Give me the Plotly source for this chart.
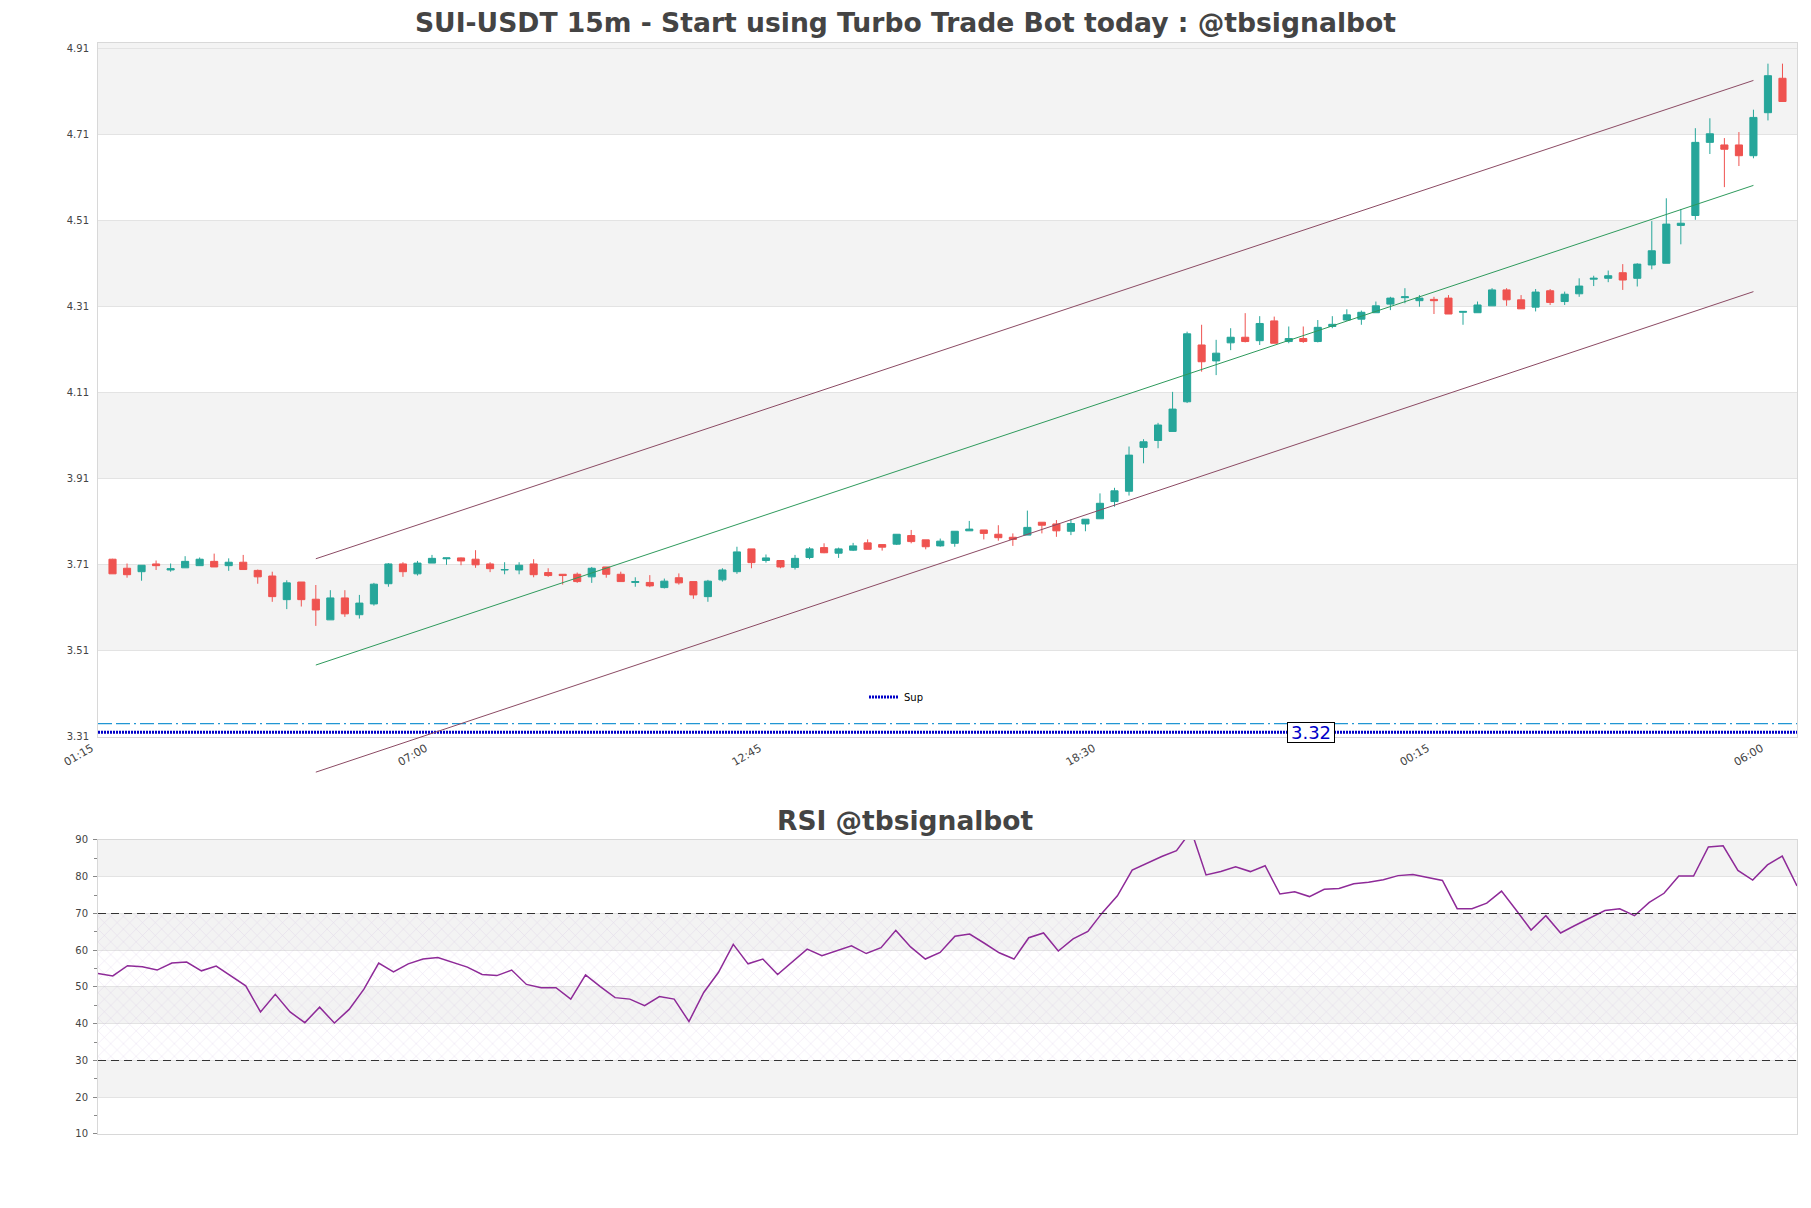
"""SUI-USDT 15m candles with regression channel, support line and RSI panel"""

import numpy as np
import plotly.graph_objects as go

# ---- data ----
opens = [
    3.722, 3.701, 3.693, 3.711, 3.697, 3.702, 3.707, 3.717, 3.707, 3.715,
    3.696, 3.683, 3.628, 3.669, 3.629, 3.581, 3.632, 3.593, 3.618, 3.665,
    3.711, 3.688, 3.713, 3.723, 3.725, 3.722, 3.711, 3.697, 3.697, 3.711,
    3.691, 3.687, 3.687, 3.681, 3.704, 3.687, 3.668, 3.668, 3.656, 3.679,
    3.670, 3.635, 3.674, 3.693, 3.746, 3.719, 3.719, 3.703, 3.726, 3.749,
    3.736, 3.743, 3.760, 3.756, 3.757, 3.777, 3.767, 3.753, 3.759, 3.788,
    3.790, 3.780, 3.773, 3.778, 3.808, 3.804, 3.787, 3.804, 3.816, 3.856,
    3.880, 3.982, 3.998, 4.019, 4.088, 4.220, 4.183, 4.225, 4.238, 4.230,
    4.276, 4.228, 4.235, 4.228, 4.263, 4.278, 4.280, 4.295, 4.315, 4.330,
    4.323, 4.326, 4.329, 4.296, 4.295, 4.311, 4.348, 4.325, 4.308, 4.346,
    4.321, 4.339, 4.373, 4.375, 4.388, 4.375, 4.406, 4.410, 4.498, 4.521,
    4.691, 4.685, 4.685, 4.660, 4.760, 4.840,
]
highs = [
    3.723, 3.712, 3.708, 3.719, 3.712, 3.729, 3.726, 3.735, 3.724, 3.732,
    3.698, 3.693, 3.673, 3.669, 3.662, 3.650, 3.650, 3.639, 3.667, 3.713,
    3.715, 3.718, 3.732, 3.725, 3.726, 3.743, 3.715, 3.715, 3.715, 3.722,
    3.701, 3.687, 3.691, 3.704, 3.704, 3.693, 3.680, 3.685, 3.677, 3.689,
    3.670, 3.674, 3.701, 3.751, 3.746, 3.733, 3.719, 3.732, 3.750, 3.759,
    3.749, 3.760, 3.768, 3.756, 3.780, 3.790, 3.767, 3.770, 3.787, 3.811,
    3.790, 3.801, 3.782, 3.835, 3.808, 3.813, 3.815, 3.815, 3.875, 3.888,
    3.984, 4.001, 4.039, 4.111, 4.251, 4.267, 4.232, 4.259, 4.294, 4.287,
    4.286, 4.263, 4.263, 4.278, 4.287, 4.303, 4.300, 4.321, 4.332, 4.352,
    4.336, 4.332, 4.336, 4.298, 4.321, 4.352, 4.352, 4.336, 4.350, 4.350,
    4.344, 4.375, 4.381, 4.393, 4.408, 4.410, 4.508, 4.561, 4.536, 4.724,
    4.747, 4.701, 4.715, 4.767, 4.874, 4.874,
]
lows = [
    3.688, 3.679, 3.672, 3.697, 3.693, 3.702, 3.707, 3.704, 3.695, 3.698,
    3.665, 3.623, 3.606, 3.612, 3.567, 3.581, 3.588, 3.584, 3.614, 3.658,
    3.681, 3.684, 3.713, 3.709, 3.708, 3.702, 3.692, 3.687, 3.687, 3.680,
    3.681, 3.663, 3.667, 3.667, 3.679, 3.670, 3.658, 3.657, 3.654, 3.663,
    3.630, 3.623, 3.670, 3.688, 3.701, 3.714, 3.701, 3.698, 3.722, 3.736,
    3.725, 3.741, 3.745, 3.742, 3.755, 3.759, 3.745, 3.751, 3.751, 3.788,
    3.768, 3.765, 3.753, 3.778, 3.782, 3.774, 3.778, 3.787, 3.816, 3.844,
    3.870, 3.945, 3.980, 4.019, 4.085, 4.158, 4.150, 4.208, 4.226, 4.220,
    4.224, 4.224, 4.225, 4.226, 4.259, 4.276, 4.267, 4.295, 4.301, 4.317,
    4.309, 4.292, 4.292, 4.267, 4.295, 4.311, 4.311, 4.304, 4.298, 4.313,
    4.313, 4.332, 4.357, 4.366, 4.348, 4.356, 4.396, 4.410, 4.454, 4.511,
    4.664, 4.587, 4.636, 4.654, 4.742, 4.786,
]
closes = [
    3.688, 3.686, 3.708, 3.707, 3.700, 3.717, 3.722, 3.704, 3.715, 3.698,
    3.681, 3.635, 3.667, 3.628, 3.604, 3.632, 3.595, 3.620, 3.664, 3.711,
    3.693, 3.713, 3.724, 3.725, 3.718, 3.709, 3.700, 3.698, 3.708, 3.686,
    3.684, 3.684, 3.670, 3.701, 3.687, 3.670, 3.670, 3.660, 3.671, 3.667,
    3.639, 3.671, 3.697, 3.739, 3.714, 3.725, 3.704, 3.724, 3.746, 3.737,
    3.746, 3.753, 3.745, 3.750, 3.780, 3.763, 3.751, 3.764, 3.787, 3.792,
    3.782, 3.772, 3.768, 3.796, 3.801, 3.788, 3.805, 3.815, 3.852, 3.881,
    3.964, 3.995, 4.034, 4.071, 4.246, 4.181, 4.201, 4.238, 4.228, 4.270,
    4.224, 4.235, 4.228, 4.261, 4.268, 4.290, 4.296, 4.311, 4.329, 4.332,
    4.329, 4.323, 4.292, 4.298, 4.313, 4.348, 4.325, 4.304, 4.343, 4.319,
    4.338, 4.357, 4.375, 4.381, 4.371, 4.408, 4.439, 4.501, 4.503, 4.691,
    4.711, 4.675, 4.660, 4.749, 4.846, 4.786,
]
rsi = [
    53.7, 53.0, 55.8, 55.5, 54.6, 56.5, 56.8, 54.4, 55.7, 53.0,
    50.3, 43.2, 48.0, 43.2, 40.3, 44.5, 40.2, 43.9, 49.4, 56.5,
    54.1, 56.3, 57.6, 58.0, 56.8, 55.4, 53.4, 53.1, 54.6, 50.7,
    49.8, 49.8, 46.7, 53.3, 50.1, 47.1, 46.7, 44.9, 47.4, 46.7,
    40.6, 48.5, 54.0, 61.6, 56.3, 57.6, 53.4, 56.8, 60.3, 58.5,
    59.9, 61.2, 59.1, 60.7, 65.4, 60.9, 57.6, 59.4, 63.8, 64.4,
    61.9, 59.3, 57.6, 63.4, 64.7, 59.8, 63.1, 65.1, 70.3, 74.8,
    81.8, 83.7, 85.5, 87.1, 92.5, 80.5, 81.4, 82.7, 81.4, 83.0,
    75.3, 75.9, 74.6, 76.6, 76.8, 78.1, 78.5, 79.2, 80.3, 80.6,
    79.8, 79.0, 71.3, 71.3, 72.8, 76.1, 70.9, 65.5, 69.4, 64.7,
    66.8, 68.8, 70.8, 71.3, 69.4, 73.0, 75.5, 80.2, 80.2, 88.1,
    88.4, 81.7, 79.1, 83.2, 85.6, 77.5,
]

# time labels every 23 candles (5h45m)
time_tick_idx = [0, 23, 46, 69, 92, 115]
time_tick_labels = ["01:15", "07:00", "12:45", "18:30", "00:15", "06:00"]
price_ticks = [3.31, 3.51, 3.71, 3.91, 4.11, 4.31, 4.51, 4.71, 4.91]
rsi_ticks = [10, 20, 30, 40, 50, 60, 70, 80, 90]

# regression channel (start/end candle, upper/mid/lower values)
channel_x = [14, 113]
channel_upper = [3.723, 4.835]
channel_mid = [3.476, 4.591]
channel_lower = [3.227, 4.344]

support_level = 3.32
support_band = 3.34
rsi_low, rsi_high = 30, 70

title = "SUI-USDT 15m - Start using Turbo Trade Bot today : @tbsignalbot"
rsi_title = "RSI @tbsignalbot"

x = np.arange(len(closes))

# ---- layout constants (pixels of the 1811x1208 figure) ----
# the page body adds an 8px offset, so figure coords = page coords - 8
W, H = 1811, 1208
ML, MR, MT, MB = 90, 22, 35, 82
price_range = [3.309, 4.922]
main_dom = [0.364, 1.0]
rsi_dom = [0.0, 0.2695]

# extra hidden axis with the same scale so channel lines can run past the bottom edge
ext_low = 3.1
scale = (main_dom[1] - main_dom[0]) / (price_range[1] - price_range[0])
ext_dom = [main_dom[0] - (price_range[0] - ext_low) * scale, 1.0]

FONT = "DejaVu Sans"
TICK_COLOR = "#444444"
GRID = "#e3e3e3"
BAND = "#f3f3f3"

fig = go.Figure()

fig.add_trace(
    go.Candlestick(
        x=x,
        open=opens,
        high=highs,
        low=lows,
        close=closes,
        increasing=dict(line=dict(color="#26a69a", width=1), fillcolor="#26a69a"),
        decreasing=dict(line=dict(color="#ef5350", width=1), fillcolor="#ef5350"),
        whiskerwidth=0,
        showlegend=False,
        xaxis="x",
        yaxis="y",
    )
)

# channel lines
for vals, color in [(channel_upper, "#8b4a63"), (channel_mid, "#2e9a5c"), (channel_lower, "#8b4a63")]:
    fig.add_trace(
        go.Scatter(
            x=channel_x,
            y=vals,
            mode="lines",
            line=dict(color=color, width=1),
            showlegend=False,
            hoverinfo="skip",
            xaxis="x",
            yaxis="y3",
        )
    )

# support lines
x_span = [x[0] - 1, x[-1] + 1]
fig.add_trace(
    go.Scatter(
        x=x_span,
        y=[support_band, support_band],
        mode="lines",
        line=dict(color="#2196d3", width=1.2, dash="14px,4px,14px,4px,2px,4px"),
        showlegend=False,
        hoverinfo="skip",
        xaxis="x",
        yaxis="y",
    )
)
fig.add_trace(
    go.Scatter(
        x=x_span,
        y=[support_level, support_level],
        mode="lines",
        name="Sup",
        line=dict(color="#0000c8", width=3, dash="2px,1px"),
        xaxis="x",
        yaxis="y",
    )
)

# RSI panel: hatched 30-70 zone, then RSI line
fig.add_trace(
    go.Scatter(
        x=[x[0], x[-1]],
        y=[rsi_low, rsi_low],
        mode="lines",
        line=dict(width=0),
        showlegend=False,
        hoverinfo="skip",
        xaxis="x2",
        yaxis="y2",
    )
)
fig.add_trace(
    go.Scatter(
        x=[x[0], x[-1]],
        y=[rsi_high, rsi_high],
        mode="lines",
        line=dict(width=0),
        fill="tonexty",
        fillcolor="rgba(0,0,0,0)",
        fillpattern=dict(shape="x", fgcolor="rgba(165,130,200,0.55)", bgcolor="rgba(0,0,0,0)", size=9, solidity=0.1),
        showlegend=False,
        hoverinfo="skip",
        xaxis="x2",
        yaxis="y2",
    )
)
fig.add_trace(
    go.Scatter(
        x=x,
        y=rsi,
        mode="lines",
        line=dict(color="#8e2a98", width=1.5),
        showlegend=False,
        xaxis="x2",
        yaxis="y2",
    )
)

shapes = []
# alternating grey bands
for lo, hi in [(3.51, 3.71), (3.91, 4.11), (4.31, 4.51), (4.71, price_range[1])]:
    shapes.append(
        dict(type="rect", xref="x domain", x0=0, x1=1, yref="y", y0=lo, y1=hi,
             fillcolor=BAND, line=dict(width=0), layer="below")
    )
for lo, hi in [(20, 30), (40, 50), (60, 70), (80, 90)]:
    shapes.append(
        dict(type="rect", xref="x2 domain", x0=0, x1=1, yref="y2", y0=lo, y1=hi,
             fillcolor=BAND, line=dict(width=0), layer="below")
    )
for lvl in [rsi_low, rsi_high]:
    shapes.append(
        dict(type="line", xref="x2 domain", x0=0, x1=1, yref="y2", y0=lvl, y1=lvl,
             line=dict(color="#333333", width=1.2, dash="8px,5px"))
    )

axis_common = dict(
    showline=True,
    mirror=True,
    linecolor="#d8d8d8",
    linewidth=1,
    zeroline=False,
    automargin=False,
    tickfont=dict(family=FONT, size=10, color=TICK_COLOR),
)

paper_w = W - ML - MR
paper_h = H - MT - MB

fig.update_layout(
    width=W,
    height=H,
    margin=dict(l=ML, r=MR, t=MT, b=MB),
    paper_bgcolor="white",
    plot_bgcolor="rgba(0,0,0,0)",
    font=dict(family=FONT, color=TICK_COLOR),
    title=dict(
        text=title,
        x=(905.5 - 8) / W,
        xref="container",
        xanchor="center",
        y=1 - 15 / H,
        yref="container",
        yanchor="middle",
        font=dict(family=FONT, size=26.6, color="#444444", weight="bold"),
    ),
    xaxis=dict(
        axis_common,
        domain=[0, 1],
        anchor="y",
        range=[x[0] - 1, x[-1] + 1],
        tickmode="array",
        tickvals=time_tick_idx,
        ticktext=time_tick_labels,
        tickangle=-30,
        ticklabelshift=-21,
        tickfont=dict(family=FONT, size=11, color=TICK_COLOR),
        showgrid=False,
        rangeslider=dict(visible=False),
    ),
    yaxis=dict(
        axis_common,
        domain=main_dom,
        anchor="x",
        range=price_range,
        tickmode="array",
        tickvals=price_ticks,
        ticktext=[f"{v:.2f}" for v in price_ticks],
        ticklabelstandoff=6,
        showgrid=True,
        gridcolor=GRID,
    ),
    yaxis3=dict(
        domain=ext_dom,
        anchor="x",
        range=[ext_low, price_range[1]],
        visible=False,
        showgrid=False,
    ),
    xaxis2=dict(
        axis_common,
        domain=[0, 1],
        anchor="y2",
        range=[x[0], x[-1]],
        showticklabels=False,
        showgrid=False,
    ),
    yaxis2=dict(
        axis_common,
        domain=rsi_dom,
        anchor="x2",
        range=[10, 90],
        tickmode="array",
        tickvals=rsi_ticks,
        ticks="outside",
        ticklen=4,
        tickcolor="#888888",
        ticklabelstandoff=3,
        minor=dict(ticks="outside", ticklen=3, tickcolor="#888888", tickvals=[v + 5 for v in rsi_ticks[:-1]]),
        showgrid=True,
        gridcolor=GRID,
    ),
    shapes=shapes,
    showlegend=True,
    legend=dict(
        x=(896 - 40 - ML) / paper_w,
        y=(H - MB - 689) / paper_h,
        xanchor="left",
        yanchor="middle",
        bgcolor="rgba(0,0,0,0)",
        font=dict(family=FONT, size=10, color="black"),
    ),
    annotations=[
        dict(
            text=rsi_title,
            xref="paper",
            yref="paper",
            x=(897.5 - ML) / paper_w,
            y=(H - MB - 812) / paper_h,
            xanchor="center",
            yanchor="middle",
            showarrow=False,
            font=dict(family=FONT, size=26.5, color="#444444", weight="bold"),
        ),
        dict(
            text=f"{support_level:.2f}",
            xref="x",
            yref="y",
            x=82.5,
            y=support_level,
            showarrow=False,
            width=46,
            height=19,
            bgcolor="white",
            bordercolor="black",
            borderwidth=1,
            borderpad=0,
            font=dict(family=FONT, size=18, color="#0000c8"),
        ),
    ],
)

fig.write_html("out.html")
